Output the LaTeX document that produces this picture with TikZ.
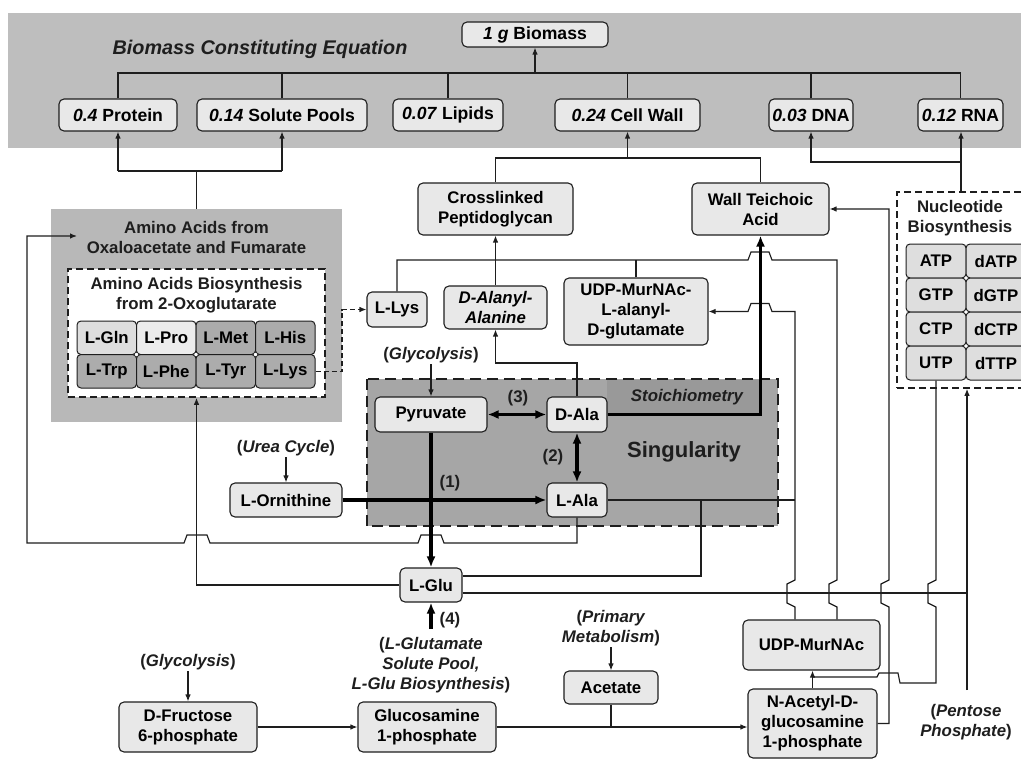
\documentclass[tikz,border=0pt]{standalone}
\usepackage{fontspec}
\setmainfont{Liberation Sans}
\usetikzlibrary{arrows.meta}
\definecolor{bandgray}{RGB}{190,190,190}
\definecolor{aagray}{RGB}{184,184,184}
\definecolor{singgray}{RGB}{166,166,166}
\definecolor{stoichgray}{RGB}{153,153,153}
\definecolor{nodefill}{RGB}{232,232,232}
\definecolor{celllight}{RGB}{222,222,222}
\definecolor{celllighter}{RGB}{236,236,236}
\definecolor{celldark}{RGB}{172,172,172}
\definecolor{linec}{RGB}{30,30,30}
\newcommand\nf{\fontsize{16.8}{20}\selectfont\bfseries}
\newcommand\tf{\fontsize{17.6}{20}\selectfont\bfseries}
\begin{document}
\begin{tikzpicture}[x=1pt,y=-1pt,
  bx/.style={draw=linec, fill=nodefill, rounded corners=5pt, line width=1.1pt, align=center, inner sep=0pt, font=\nf},
  tbx/.style={bx, font=\tf},
  cl/.style={draw=linec, rounded corners=4pt, line width=1pt, minimum width=59.5pt, minimum height=33.5pt, inner sep=0pt, font=\nf},
  ncl/.style={draw=linec, fill=celllight, rounded corners=4pt, line width=1pt, minimum width=60pt, minimum height=34pt, inner sep=0pt, font=\nf},
  lbl/.style={align=center, inner sep=1pt, font=\nf, text=linec},
  ln/.style={draw=linec, line width=1.15pt},
  arr/.style={ln, -{Latex[length=7pt,width=5.5pt]}},
  tk/.style={draw=black, line width=3.2pt, -{Latex[length=11pt,width=9pt]}},
  tkd/.style={draw=black, line width=3.2pt, {Latex[length=11pt,width=9pt]}-{Latex[length=11pt,width=9pt]}},
  dsh/.style={draw=linec, line width=1.6pt, dash pattern=on 7pt off 4pt},
  jn/.style={draw=linec, fill=white, line width=0.6pt}
]
\path[use as bounding box] (0,0) rectangle (1021,760);
\clip (0,0) rectangle (1021,760);
\fill[white] (0,0) rectangle (1021,760);

% ---------- backgrounds ----------
\fill[bandgray] (8,13) rectangle (1021,148);
\node[fill=aagray, minimum width=291pt, minimum height=213pt, inner sep=0pt] (aa) at (196.5,315.5) {};
\node[dsh, fill=white, minimum width=257pt, minimum height=128pt, inner sep=0pt] (aadash) at (196.5,333) {};
\node[fill=singgray, minimum width=411pt, minimum height=147pt, inner sep=0pt] (sing) at (572.5,452.5) {};
\fill[stoichgray] (607,380) rectangle (760,415);
\draw[draw=linec, line width=2.2pt, dash pattern=on 11pt off 6pt] (sing.north west) rectangle (sing.south east);
\node[dsh, fill=white, minimum width=140pt, minimum height=196pt, inner sep=0pt] (nuc) at (967,290) {};

% ---------- titles ----------
\node[lbl, font=\fontsize{19.8}{22}\selectfont\bfseries\itshape] (title) at (260,49) {Biomass Constituting Equation};
\node[lbl] (aatitle) at (196.5,237) {Amino Acids from\\Oxaloacetate and Fumarate};
\node[lbl] (aatitle2) at (196.5,295) {Amino Acids Biosynthesis\\from 2-Oxoglutarate};
\node[lbl] (nuctitle) at (960,218) {Nucleotide\\Biosynthesis};

% ---------- top boxes ----------
\node[tbx, minimum width=146pt, minimum height=25pt] (biomass) at (535,34.5) {\textit{1 g} Biomass};
\node[tbx, minimum width=118pt, minimum height=32pt] (protein) at (118,115) {\textit{0.4} Protein};
\node[tbx, minimum width=170pt, minimum height=32pt] (solute) at (282,115) {\textit{0.14} Solute Pools};
\node[tbx, minimum width=110pt, minimum height=32pt] (lipids) at (448,115) {\textit{0.07} Lipids};
\node[tbx, minimum width=145pt, minimum height=32pt] (cellwall) at (627.5,115) {\textit{0.24} Cell Wall};
\node[tbx, minimum width=84pt, minimum height=32pt] (dna) at (811,115) {\textit{0.03} DNA};
\node[tbx, minimum width=85pt, minimum height=32pt] (rna) at (960.5,115) {\textit{0.12} RNA};

% ---------- amino acid cells ----------
\node[cl, fill=celllight] (glncell) at (106.75,337.75) {L-Gln};
\node[cl, fill=celllighter] (procell) at (166.25,337.75) {L-Pro};
\node[cl, fill=celldark] (metcell) at (225.75,337.75) {L-Met};
\node[cl, fill=celldark] (hiscell) at (285.25,337.75) {L-His};
\node[cl, fill=celldark] (trpcell) at (106.75,371.25) {L-Trp};
\node[cl, fill=celldark] (phecell) at (166.25,371.25) {L-Phe};
\node[cl, fill=celldark] (tyrcell) at (225.75,371.25) {L-Tyr};
\node[cl, fill=celldark] (lyscell) at (285.25,371.25) {L-Lys};
\foreach \x in {136.5,196,255.5} \draw[jn] (\x,354.5) circle (2.2pt);

% ---------- nucleotide cells ----------
\node[ncl] (atp) at (936,261) {ATP};
\node[ncl] (datp) at (996,261) {dATP};
\node[ncl] (gtp) at (936,295) {GTP};
\node[ncl] (dgtp) at (996,295) {dGTP};
\node[ncl] (ctp) at (936,329) {CTP};
\node[ncl] (dctp) at (996,329) {dCTP};
\node[ncl] (utp) at (936,363) {UTP};
\node[ncl] (dttp) at (996,363) {dTTP};
\foreach \y in {278,312,346} \draw[jn] (966,\y) circle (2.2pt);

% ---------- middle boxes ----------
\node[bx, minimum width=155pt, minimum height=52pt] (crosslinked) at (495.5,209) {Crosslinked\\Peptidoglycan};
\node[bx, minimum width=137pt, minimum height=52pt] (wta) at (760.5,209) {Wall Teichoic\\Acid};
\node[bx, minimum width=60pt, minimum height=35pt] (llys) at (397,309.5) {L-Lys};
\node[bx, minimum width=103pt, minimum height=43pt, font=\nf\itshape] (dalanyl) at (495.5,307.5) {D-Alanyl-\\Alanine};
\node[bx, minimum width=144pt, minimum height=67pt] (udpmurl) at (636,311.5) {UDP-MurNAc-\\L-alanyl-\\D-glutamate};
\node[bx, minimum width=112pt, minimum height=35pt] (pyruvate) at (431,414.5) {Pyruvate};
\node[bx, minimum width=60pt, minimum height=35pt] (dala) at (577,414.5) {D-Ala};
\node[bx, minimum width=60pt, minimum height=34pt] (lala) at (577,500) {L-Ala};
\node[bx, minimum width=112pt, minimum height=34pt] (lorn) at (286,500) {L-Ornithine};
\node[bx, minimum width=62pt, minimum height=34pt] (lglu) at (431,585) {L-Glu};
\node[bx, minimum width=138pt, minimum height=50pt] (dfruc) at (188,727) {D-Fructose\\6-phosphate};
\node[bx, minimum width=138pt, minimum height=50pt] (glucosamine) at (427,727) {Glucosamine\\1-phosphate};
\node[bx, minimum width=94pt, minimum height=33pt] (acetate) at (611,687.5) {Acetate};
\node[bx, minimum width=137pt, minimum height=50pt] (udpmur) at (811.5,645) {UDP-MurNAc};
\node[bx, minimum width=129pt, minimum height=69pt] (nacetyl) at (812.5,723.5) {N-Acetyl-D-\\glucosamine\\1-phosphate};

% ---------- labels ----------
\node[lbl] (glyc1) at (431,355) {(\textit{Glycolysis})};
\node[lbl] (urea) at (286,448) {(\textit{Urea Cycle})};
\node[lbl] (l3) at (518,398) {(3)};
\node[lbl] (l2) at (553,457) {(2)};
\node[lbl] (l1) at (450,483) {(1)};
\node[lbl] (l4) at (450,620) {(4)};
\node[lbl, font=\nf\itshape] (stoich) at (687,397) {Stoichiometry};
\node[lbl, font=\fontsize{22}{24}\selectfont\bfseries] (singlbl) at (684,452) {Singularity};
\node[lbl] (lglutamate) at (431,665) {(\textit{L-Glutamate}\\\textit{Solute Pool,}\\\textit{L-Glu Biosynthesis})};
\node[lbl] (glyc2) at (188,662) {(\textit{Glycolysis})};
\node[lbl] (primary) at (611,628) {(\textit{Primary}\\\textit{Metabolism})};
\node[lbl] (pentose) at (966,722) {(\textit{Pentose}\\\textit{Phosphate})};

% ---------- helper coordinates ----------
\coordinate (busY) at (0,73);
\coordinate (aaY) at (0,171);
\coordinate (cwY) at (0,158);
\coordinate (nY) at (0,162);
\coordinate (nucX) at (961,0);
\coordinate (y260) at (0,260);
\coordinate (y363) at (0,363);
\coordinate (cA) at (795,0);
\coordinate (cB) at (837,0);
\coordinate (cE) at (967,0);
\coordinate (aaTip) at (77,236);
\coordinate (ppTop) at (967,690);
\coordinate (fourBase) at (431,629);

% ---------- connectors: top ----------
\draw[ln] (protein.north) -- (protein.north |- busY) -- (rna.north |- busY) -- (rna.north);
\foreach \n in {solute,lipids,cellwall,dna} \draw[ln] (\n.north) -- (\n.north |- busY);
\draw[arr] (biomass.south |- busY) -- (biomass.south);

\draw[ln] (aa.north) -- (aa.north |- aaY);
\draw[ln] (protein.south |- aaY) -- (solute.south |- aaY);
\draw[arr] (protein.south |- aaY) -- (protein.south);
\draw[arr] (solute.south |- aaY) -- (solute.south);

\draw[ln] (crosslinked.north) -- (crosslinked.north |- cwY) -- (wta.north |- cwY) -- (wta.north);
\draw[arr] (cellwall.south |- cwY) -- (cellwall.south);

\draw[arr] (nuc.north -| nucX) -- (rna.south -| nucX);
\draw[arr] (nucX |- nY) -| (dna.south);

% ---------- cell wall region ----------
\draw[arr] (dalanyl.north) -- (crosslinked.south);
\draw[ln] (llys.north) -- (llys.north |- y260) -- (748,260) -- (751,252) -- (769,252) -- (772,260) -- (837,260) -- (837,580) -- (829,584) -- (829,603) -- (837,607) -- (udpmur.north -| cB);
\draw[ln] (udpmurl.north) -- (udpmurl.north |- y260);
\draw[arr] (udpmur.north -| cA) -- (795,607) -- (787,603) -- (787,584) -- (795,580) -- (795,311.5) -- (772,311.5) -- (769,303.5) -- (751,303.5) -- (748,311.5) -- (udpmurl.east);
\draw[ln] (lala.east) -- (lala.east -| cA);
\draw[ln] ([yshift=9pt]lglu.east) -| (701,500);
\draw[ln] ([yshift=-8pt]lglu.east) -- (967,593);
\draw[arr] (ppTop) -- (nuc.south -| cE);
\draw[arr] (nacetyl.east) -- (889,723.5) -- (889,607) -- (881,603) -- (881,584) -- (889,580) -- (889,209) -- (wta.east);
\draw[ln] (utp.south) -- (936,580) -- (928,584) -- (928,603) -- (936,607) -- (936,683) -- (900,683) -- (898,673) -- (879,673) -- (877,677) -- (812.5,677);
\draw[arr] (nacetyl.north) -- (nacetyl.north |- udpmur.south);

% ---------- singularity ----------
\draw[arr] (dala.north) |- (dalanyl.south |- y363) -- (dalanyl.south);
\draw[arr] (pyruvate.north |- glyc1.south) -- (pyruvate.north);
\draw[arr] (urea.south) -- (lorn.north);
\draw[arr] (lala.south) -- (577,543) -- (444,543) -- (441,535) -- (421,535) -- (418,543) -- (210,543) -- (207,535) -- (187,535) -- (184,543) -- (27,543) -- (27,236) -- (aaTip);
\draw[arr] (lglu.west) -| (aadash.south);
\draw[arr, dash pattern=on 5pt off 3pt] (lyscell.east) -- (342,371.25) |- (llys.west);
\draw[tk] (dala.east) -| (wta.south);
\draw[tkd] (pyruvate.east) -- (dala.west);
\draw[tkd] (dala.south) -- (lala.north);
\draw[tk] (lorn.east) -- (lala.west);
\draw[tk] (pyruvate.south) -- (lglu.north);
\draw[tk] (fourBase) -- (lglu.south);

% ---------- bottom ----------
\draw[arr] (dfruc.east) -- (glucosamine.west);
\draw[arr] (glucosamine.east) -- (glucosamine.east -| nacetyl.west);
\draw[ln] (acetate.south) -- (acetate.south |- glucosamine.east);
\draw[arr] (glyc2.south) -- (dfruc.north);
\draw[arr] (primary.south) -- (acetate.north);
\end{tikzpicture}
\end{document}
